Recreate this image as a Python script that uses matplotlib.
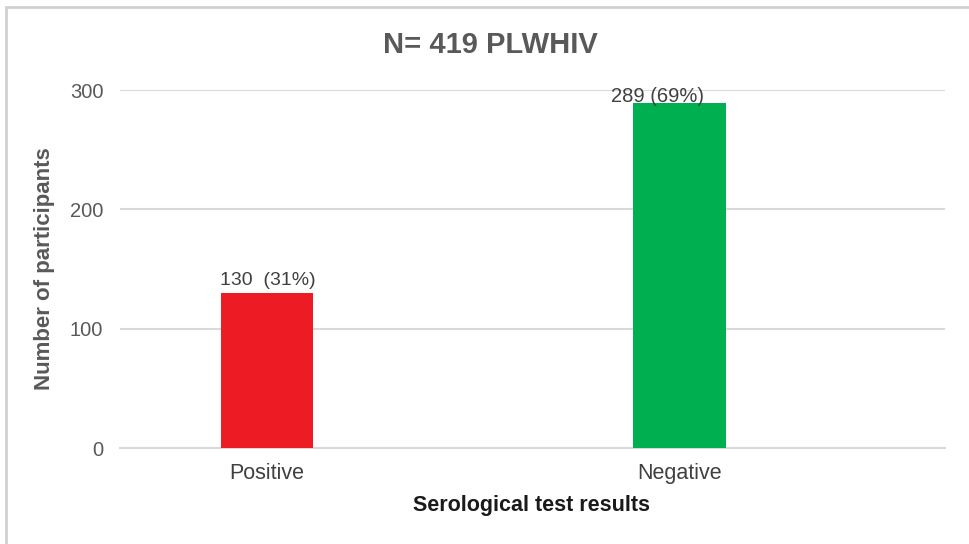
import matplotlib
matplotlib.use("Agg")
import matplotlib.pyplot as plt
from matplotlib.patches import Rectangle

categories = ["Positive", "Negative"]
counts = [130, 289]
labels = ["130  (31%)", "289 (69%)"]
colors = ["#ED1C24", "#00B050"]
yticks = [0, 100, 200, 300]

plt.rcParams['font.family'] = ['Liberation Sans', 'DejaVu Sans']

W, H = 970, 544
fig = plt.figure(figsize=(W/100, H/100), dpi=100)
fig.patch.set_facecolor("white")

# outer chart border
fig.patches.append(Rectangle((6/W, -0.05), 1.1, 1 - 7/H + 0.05, transform=fig.transFigure,
                             fill=False, edgecolor="#d0d0d0", linewidth=2))

left, right = 120/W, 945/W
bottom, top = 1 - 448/H, 1 - 90/H
ax = fig.add_axes([left, bottom, right - left, top - bottom])

x = list(range(len(categories)))
ax.bar(x, counts, width=0.225, color=colors, zorder=3)
ax.set_xlim(-0.356, 1.642)
ax.set_ylim(0, 300)
ax.set_yticks(yticks)
ax.set_yticklabels([str(v) for v in yticks], fontsize=14.5, color="#595959")
ax.set_xticks(x)
ax.set_xticklabels(categories, fontsize=15.5, color="#404040")
ax.tick_params(axis='both', length=0)
ax.tick_params(axis='y', pad=12)
ax.tick_params(axis='x', pad=11)
ax.grid(axis='y', color="#d9d9d9", linewidth=1.5, zorder=0)
for s in ["top", "right", "left"]:
    ax.spines[s].set_visible(False)
ax.spines["bottom"].set_color("#d9d9d9")
ax.spines["bottom"].set_linewidth(1.5)

# data labels
ax.text(x[0] - 0.115, counts[0] + 3, labels[0], ha="left", va="bottom", fontsize=14, color="#404040", zorder=4)
ax.text(x[1] - 0.055, counts[1] - 2.5, labels[1], ha="center", va="bottom", fontsize=14.5, color="#404040", zorder=4)

ax.set_xlabel("Serological test results", fontsize=15.5, fontweight="bold", color="#1a1a1a")
ax.set_ylabel("Number of participants", fontsize=16, fontweight="bold", color="#595959")
ax.xaxis.set_label_coords((532 - 120) / 825, (448 - 505) / 358)
ax.yaxis.set_label_coords((45 - 120) / 825, 0.5)
ax.xaxis.label.set_va("center")
ax.yaxis.label.set_va("center")

fig.text(490/W, 1 - 45/H, "N= 419 PLWHIV", ha="center", va="center", fontsize=21,
         fontweight="bold", color="#595959")

fig.savefig("out.png", dpi=100)
